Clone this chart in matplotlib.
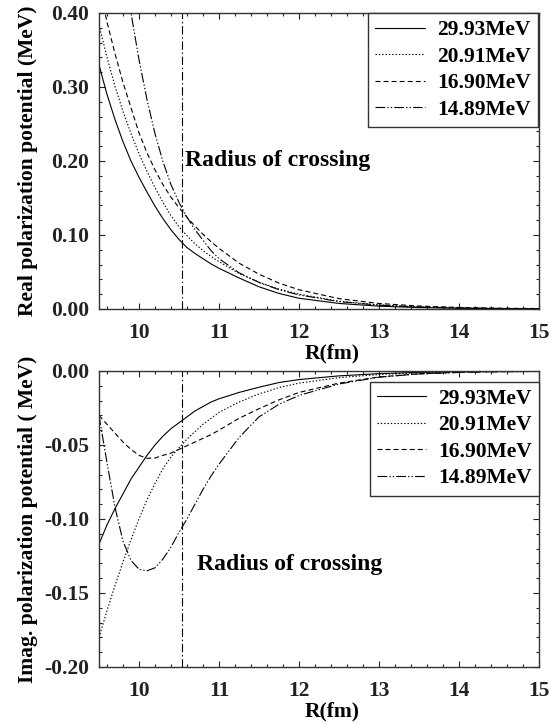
import matplotlib
matplotlib.use('Agg')
import matplotlib.pyplot as plt
from matplotlib.ticker import MultipleLocator, FormatStrFormatter

# radius grid (fm) and values
R = [9.5, 9.6, 9.7, 9.8, 9.9, 10.0, 10.1, 10.2, 10.3, 10.4, 10.5, 10.6, 10.7,
     10.8, 10.9, 11.0, 11.25, 11.5, 11.75, 12.0, 12.5, 13.0, 13.5, 14.0, 14.5, 15.0]

energies = ['29.93MeV', '20.91MeV', '16.90MeV', '14.89MeV']

# real part (MeV)
real_2993 = [0.330, 0.290, 0.256, 0.226, 0.200, 0.178, 0.158, 0.139, 0.122, 0.107,
             0.094, 0.083, 0.075, 0.068, 0.061, 0.055, 0.042, 0.030, 0.021, 0.0145,
             0.0075, 0.0038, 0.0019, 0.001, 0.0005, 0.0003]
real_2091 = [0.384, 0.340, 0.301, 0.267, 0.237, 0.210, 0.186, 0.164, 0.144, 0.126,
             0.111, 0.099, 0.088, 0.079, 0.071, 0.064, 0.048, 0.036, 0.027, 0.020,
             0.0105, 0.0055, 0.0028, 0.0014, 0.0007, 0.0004]
real_1690 = [0.437, 0.388, 0.345, 0.306, 0.272, 0.238, 0.211, 0.188, 0.168, 0.151,
             0.137, 0.124, 0.112, 0.101, 0.091, 0.082, 0.062, 0.047, 0.035, 0.026,
             0.014, 0.0075, 0.004, 0.0021, 0.0011, 0.0006]
real_1489 = [0.78, 0.66, 0.56, 0.475, 0.40, 0.337, 0.283, 0.237, 0.199, 0.168,
             0.144, 0.124, 0.107, 0.093, 0.079, 0.068, 0.049, 0.036, 0.026, 0.019,
             0.010, 0.0052, 0.0027, 0.0014, 0.0007, 0.0004]

# imaginary part (MeV)
imag_2993 = [-0.117, -0.104, -0.093, -0.083, -0.073, -0.065, -0.057, -0.050, -0.044, -0.039,
             -0.035, -0.031, -0.027, -0.024, -0.021, -0.0188, -0.0145, -0.011, -0.0078, -0.0058,
             -0.0033, -0.0018, -0.0009, -0.0004, -0.0002, -0.0001]
imag_2091 = [-0.180, -0.162, -0.145, -0.129, -0.114, -0.100, -0.087, -0.076, -0.066, -0.058,
             -0.052, -0.046, -0.041, -0.036, -0.032, -0.028, -0.021, -0.0155, -0.0112, -0.0082,
             -0.0045, -0.0024, -0.0012, -0.0006, -0.0003, -0.0001]
imag_1690 = [-0.030, -0.036, -0.042, -0.048, -0.053, -0.057, -0.059, -0.0588, -0.057, -0.0555,
             -0.053, -0.0505, -0.048, -0.0455, -0.043, -0.040, -0.032, -0.0255, -0.0195, -0.0145,
             -0.0082, -0.0040, -0.0019, -0.0009, -0.0005, -0.0003]
imag_1489 = [-0.030, -0.062, -0.092, -0.115, -0.128, -0.134, -0.135, -0.133, -0.127, -0.119,
             -0.109, -0.100, -0.090, -0.080, -0.071, -0.063, -0.045, -0.031, -0.0225, -0.0165,
             -0.0088, -0.0042, -0.0020, -0.0010, -0.0005, -0.0003]

R_cross = 10.54

plt.rcParams['font.family'] = ['Liberation Serif', 'DejaVu Serif']
plt.rcParams['font.weight'] = 'bold'
plt.rcParams['font.size'] = 15.5
plt.rcParams['axes.unicode_minus'] = False
plt.rcParams['lines.scale_dashes'] = False

styles = ['-', (0, (1, 1.4)), (0, (3.6, 2.2)), (0, (7, 1.5, 1, 1.5, 1, 1.5))]
cross_style = (0, (6, 2, 1, 2))

fig = plt.figure(figsize=(5.58, 7.25), dpi=100)
ax1 = fig.add_axes([0.1774, 0.5738, 0.7885, 0.4083])
ax2 = fig.add_axes([0.1774, 0.0800, 0.7885, 0.4083])


def style_axes(ax):
    ax.set_xlim(9.5, 15)
    ax.xaxis.set_major_locator(MultipleLocator(1))
    ax.xaxis.set_minor_locator(MultipleLocator(0.2))
    ax.tick_params(which='both', direction='in', top=True, right=True,
                   width=0.8, colors='#222222')
    ax.tick_params(which='major', length=4.5)
    ax.tick_params(which='minor', length=2.5)
    ax.tick_params(axis='x', pad=10)
    ax.tick_params(axis='y', pad=7)
    for sp in ax.spines.values():
        sp.set_linewidth(1.0)
        sp.set_color('#333333')
    ax.set_xlabel('R(fm)', fontweight='bold', labelpad=0)
    ax.xaxis.set_label_coords(0.53, -0.115)
    ax.yaxis.set_label_coords(-0.139, 0.5)


def add_legend(ax, anchor):
    ax.legend(loc='upper right', bbox_to_anchor=anchor, frameon=True,
              fancybox=False, edgecolor='#333333', framealpha=1, borderaxespad=0,
              handlelength=2.3, handletextpad=0.55, labelspacing=0.3, borderpad=0.33)


# real part
for vals, ls, lab in zip([real_2993, real_2091, real_1690, real_1489], styles, energies):
    ax1.plot(R, vals, color='black', lw=0.8, linestyle=ls, label=lab)
ax1.axvline(R_cross, color='black', lw=0.8, linestyle=cross_style)
ax1.text(R_cross + 0.04, 0.20, 'Radius of crossing', va='center', ha='left',
         fontweight='bold', fontsize=17)
ax1.set_ylim(0, 0.40)
ax1.yaxis.set_major_locator(MultipleLocator(0.1))
ax1.yaxis.set_minor_locator(MultipleLocator(0.02))
ax1.yaxis.set_major_formatter(FormatStrFormatter('%.2f'))
ax1.set_ylabel('Real polarization potential (MeV)', fontweight='bold')
style_axes(ax1)
add_legend(ax1, (0.997, 1.0))

# imaginary part
for vals, ls, lab in zip([imag_2993, imag_2091, imag_1690, imag_1489], styles, energies):
    ax2.plot(R, vals, color='black', lw=0.8, linestyle=ls, label=lab)
ax2.axvline(R_cross, color='black', lw=0.8, linestyle=cross_style)
ax2.text(10.72, -0.131, 'Radius of crossing', va='center', ha='left',
         fontweight='bold', fontsize=17)
ax2.set_ylim(-0.20, 0.0)
ax2.yaxis.set_major_locator(MultipleLocator(0.05))
ax2.yaxis.set_minor_locator(MultipleLocator(0.01))
ax2.yaxis.set_major_formatter(FormatStrFormatter('%.2f'))
ax2.set_ylabel('Imag. polarization potential ( MeV)', fontweight='bold')
style_axes(ax2)
add_legend(ax2, (1.0, 0.964))

plt.savefig('out.png', dpi=100)
